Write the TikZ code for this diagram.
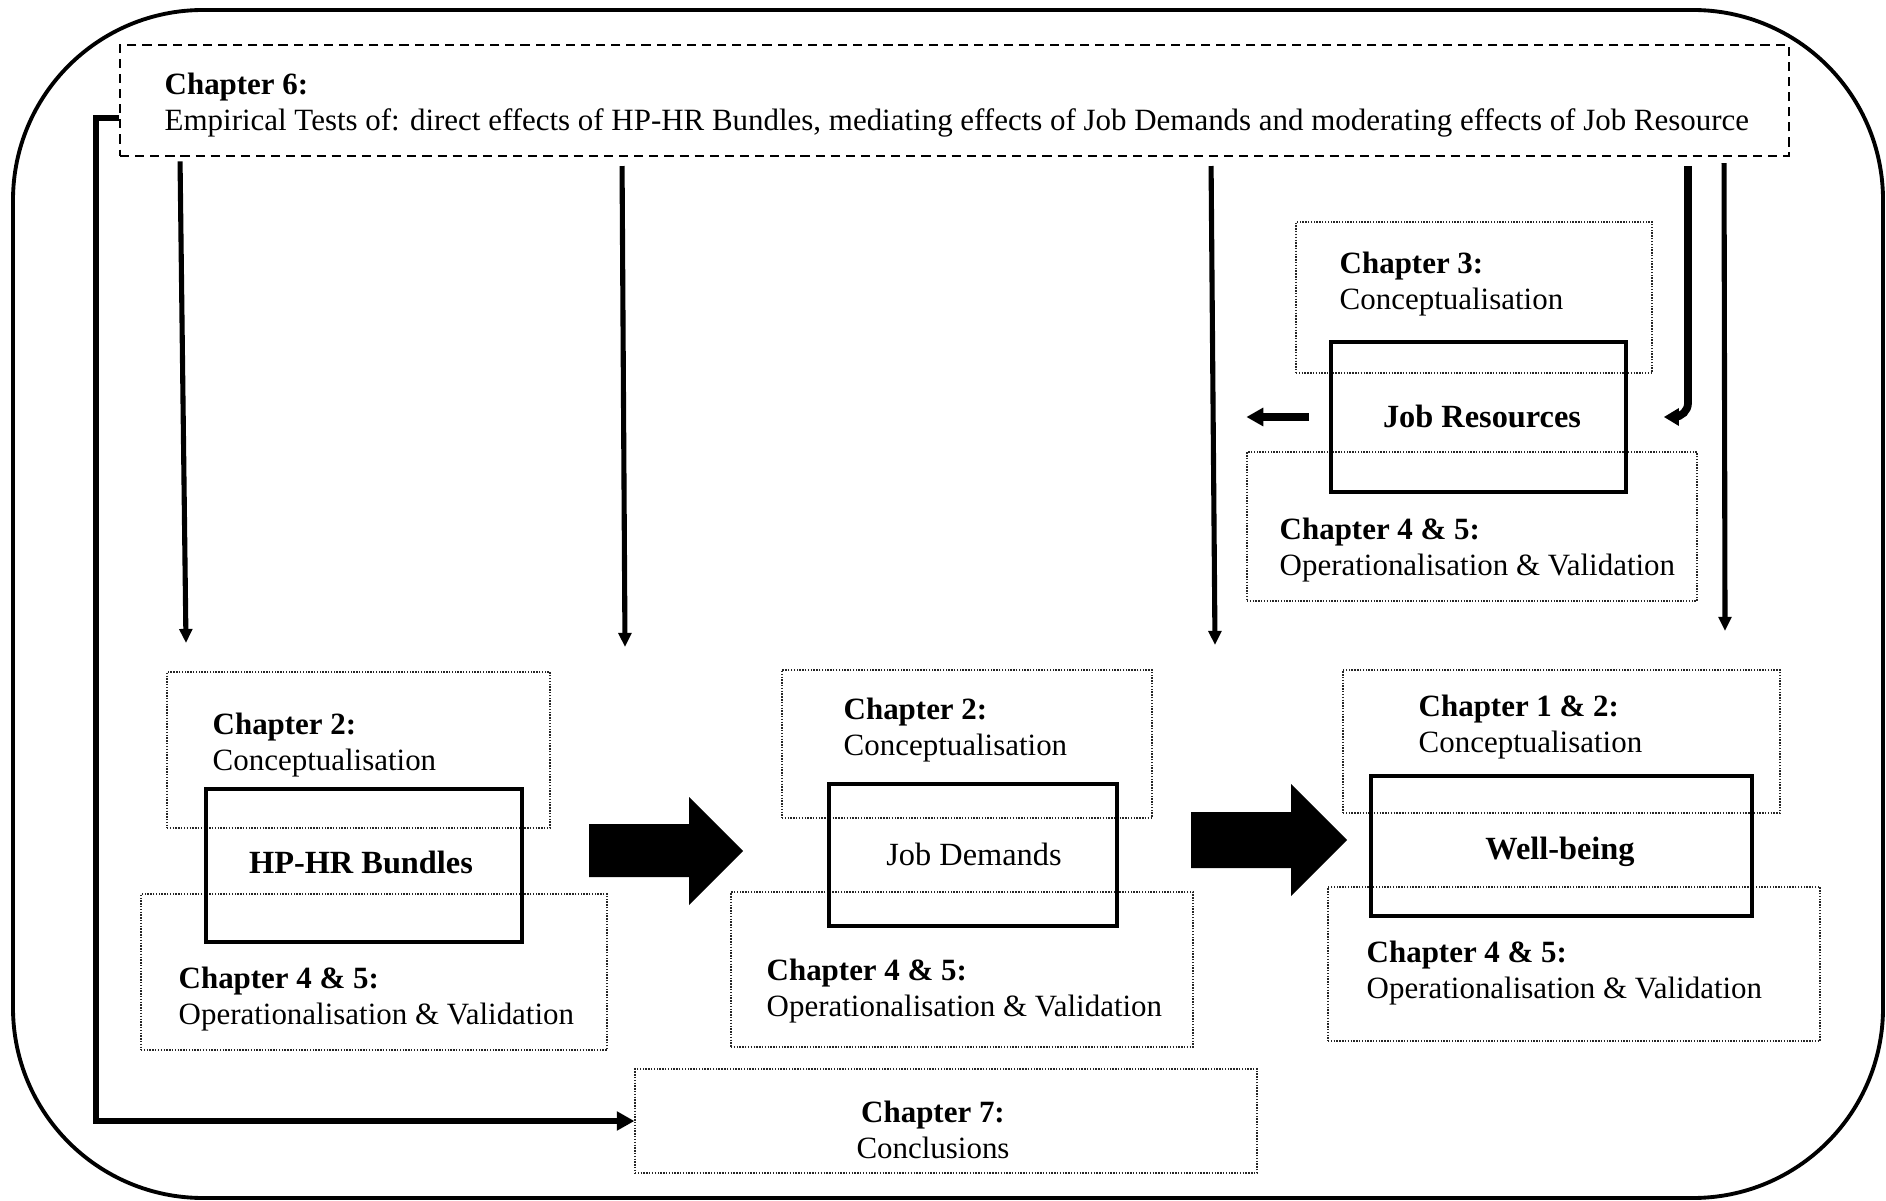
\documentclass[tikz,border=0pt]{standalone}
\usepackage{fontspec}
\setmainfont{Liberation Serif}
\usetikzlibrary{arrows.meta,fit}
\begin{document}
\begin{tikzpicture}[x=0.01cm,y=-0.01cm,
  frame/.style={draw, line width=1.1pt, rounded corners=1.9cm},
  dotbox/.style={draw=black!85, line width=0.35pt, dash pattern=on 0.4pt off 0.4pt, inner sep=0pt},
  dashbox/.style={draw, line width=0.7pt, dash pattern=on 2.6pt off 1.7pt, inner sep=0pt},
  solidbox/.style={draw, line width=1.1pt, inner sep=0pt},
  txt/.style={inner sep=0pt, anchor=north west, align=left, font=\fontsize{8.8pt}{10.24pt}\selectfont},
  ctxt/.style={inner sep=0pt, anchor=north, align=center, font=\fontsize{8.8pt}{10.24pt}\selectfont},
  lbl/.style={inner sep=0pt, font=\fontsize{9.2pt}{11pt}\selectfont},
  thinarrow/.style={line width=1.45pt, -{Triangle[length=4pt,width=3.6pt]}},
  bentarrow/.style={line width=2.2pt, rounded corners=4pt, -{Triangle[length=4.3pt,width=4.8pt]}},
  sidearrow/.style={line width=2pt, -{Triangle[length=4.8pt,width=5pt]}},
  connector/.style={line width=1.7pt, -{Triangle[length=5pt,width=5.2pt]}},
  blockarrow/.style={fill=black}]
\useasboundingbox (0,0) rectangle (1886,1201);

% outer frame
\draw[frame] (13,10) rectangle (1883,1198);

% Chapter 6 banner
\node[dashbox, fit={(120,45) (1789,156)}] (ch6) {};
\node[txt] (ch6t) at (164,72) {\textbf{Chapter 6:}\\Empirical Tests of: direct effects of HP-HR Bundles, mediating effects of Job Demands and moderating effects of Job Resource};

% Job Resources group
\node[dotbox, fit={(1296,222) (1652,373)}] (jr3) {};
\node[dotbox, fit={(1247,452) (1697,601)}] (jr45) {};
\node[solidbox, fit={(1331,342) (1626,492)}] (jrbox) {};
\node[txt] (jr3t) at (1339,251) {\textbf{Chapter 3:}\\Conceptualisation};
\node[txt] (jr45t) at (1279,517) {\textbf{Chapter 4 \& 5:}\\Operationalisation \& Validation};
\node[lbl] (jrl) at (1482,416) {\textbf{Job Resources}};

% HP-HR Bundles group
\node[dotbox, fit={(167,672) (550,828)}] (hp2) {};
\node[dotbox, fit={(141,894) (607,1050)}] (hp45) {};
\node[solidbox, fit={(206,789) (522,942)}] (hpbox) {};
\node[txt] (hp2t) at (212,712) {\textbf{Chapter 2:}\\Conceptualisation};
\node[txt] (hp45t) at (178,966) {\textbf{Chapter 4 \& 5:}\\Operationalisation \& Validation};
\node[lbl] (hpl) at (361,862) {\textbf{HP-HR Bundles}};

% Job Demands group
\node[dotbox, fit={(782,670) (1152,818)}] (jd2) {};
\node[dotbox, fit={(731,892) (1193,1047)}] (jd45) {};
\node[solidbox, fit={(829,784) (1117,926)}] (jdbox) {};
\node[txt] (jd2t) at (843,697) {\textbf{Chapter 2:}\\Conceptualisation};
\node[txt] (jd45t) at (766,958) {\textbf{Chapter 4 \& 5:}\\Operationalisation \& Validation};
\node[lbl] (jdl) at (974,854) {Job Demands};

% Well-being group
\node[dotbox, fit={(1343,670) (1780,813)}] (wb2) {};
\node[dotbox, fit={(1328,887) (1820,1041)}] (wb45) {};
\node[solidbox, fit={(1371,776) (1752,916)}] (wbbox) {};
\node[txt] (wb2t) at (1418,694) {\textbf{Chapter 1 \& 2:}\\Conceptualisation};
\node[txt] (wb45t) at (1366,940) {\textbf{Chapter 4 \& 5:}\\Operationalisation \& Validation};
\node[lbl] (wbl) at (1560,852) {\textbf{Well-being}};

% Chapter 7
\node[dotbox, fit={(635,1069) (1257,1173)}] (ch7) {};
\node[ctxt] (ch7t) at (933,1100) {\textbf{Chapter 7:}\\Conclusions};

% arrows from the Chapter 6 banner
\coordinate (a1x) at (180,0);  \coordinate (a1e) at (186,643);
\coordinate (a2x) at (622,0);  \coordinate (a2e) at (625,647);
\coordinate (a3x) at (1211,0); \coordinate (a3e) at (1215,645);
\coordinate (a4x) at (1724,0); \coordinate (a4e) at (1725,631);
\coordinate (bx)  at (1688,0);
\draw[thinarrow, shorten <=1.2pt] (ch6.south -| a1x) -- (a1e);
\draw[thinarrow, shorten <=2.5pt] (ch6.south -| a2x) -- (a2e);
\draw[thinarrow, shorten <=2.5pt] (ch6.south -| a3x) -- (a3e);
\draw[thinarrow, shorten <=1.7pt] (ch6.south -| a4x) -- (a4e);
\draw[bentarrow, shorten <=2.5pt, shorten >=10.2pt] (ch6.south -| bx) |- (jrbox.east);

% Job Resources pointing left
\draw[sidearrow, shorten <=5.7pt] (jrbox.west) -- (jrbox.west -| jr45.west);

% block arrows between the main constructs
\fill[blockarrow] (589,824) -- (689,824) -- (689,797) -- (743,851) -- (689,905) -- (689,877) -- (589,877) -- cycle;
\fill[blockarrow] (1191,812) -- (1291,812) -- (1291,784) -- (1347,840) -- (1291,896) -- (1291,868) -- (1191,868) -- cycle;

% link from Chapter 6 to the conclusions
\coordinate (lc) at (96,1121);
\draw[connector] ([yshift=-5pt]ch6.west) -| (lc) -- (ch7.west);
\end{tikzpicture}
\end{document}
